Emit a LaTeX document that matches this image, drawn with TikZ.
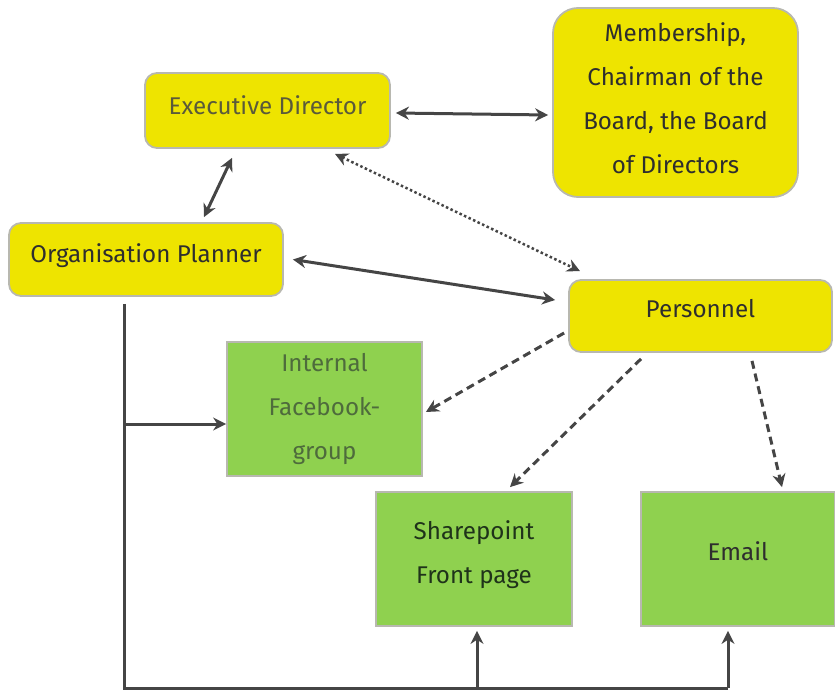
\documentclass[tikz,border=0pt]{standalone}
\usepackage{fontspec}
\setmainfont{Fira Sans}
\usetikzlibrary{arrows.meta,calc}
\definecolor{yel}{HTML}{EEE400}
\definecolor{grn}{HTML}{8FD14F}
\definecolor{bord}{HTML}{B8B8B0}
\definecolor{arrc}{HTML}{454545}
\definecolor{edtext}{HTML}{5A5A3A}
\definecolor{fbtext}{HTML}{4E6B3C}
\definecolor{sptext}{HTML}{1F331A}
\newcommand\lift[2][5pt]{\raisebox{#1}[\height][\depth]{\begin{tabular}{@{}c@{}}#2\end{tabular}}}
\begin{document}
\begin{tikzpicture}[x=1pt,y=-1pt,
  ybox/.style={draw=bord,line width=1.8pt,fill=yel,rounded corners=12pt,inner sep=0pt,
     font=\fontsize{24.2}{44}\selectfont,text=black!82},
  gbox/.style={draw=bord,line width=1.8pt,fill=grn,inner sep=0pt,
     font=\fontsize{24.2}{44}\selectfont,text=black!82},
  arr/.style={draw=arrc,line width=3pt,-{Stealth[length=13pt,width=13pt]}},
  darr/.style={arr,{Stealth[length=13pt,width=13pt]}-{Stealth[length=13pt,width=13pt]}},
  dash2/.style={dash pattern=on 8pt off 5pt},
  dot2/.style={dash pattern=on 2.5pt off 2.5pt}]
\useasboundingbox (0,0) rectangle (835,693);
\node[ybox,minimum width=245pt,minimum height=75pt,text=edtext] (ed) at (267.5,110.5) {\lift{Executive Director}};
\node[ybox,rounded corners=25pt,minimum width=245pt,minimum height=189pt] (mem) at (675.5,102.5) {\lift[4pt]{Membership,\\Chairman of the\\Board, the Board\\of Directors}};
\node[ybox,minimum width=274pt,minimum height=73pt] (op) at (146,259.5) {\lift[6pt]{Organisation Planner}};
\node[ybox,minimum width=263pt,minimum height=72pt] (pers) at (700.5,316) {\lift[7pt]{Personnel}};
\node[gbox,minimum width=195pt,minimum height=134pt,text=fbtext] (fb) at (324.5,409) {\lift[2pt]{Internal\\Facebook-\\group}};
\node[gbox,minimum width=196pt,minimum height=134pt,text=sptext] (sp) at (474,559) {\lift[6pt]{Sharepoint\\Front page}};
\node[gbox,minimum width=194pt,minimum height=134pt] (em) at (738,559) {\lift[7pt]{Email}};
% connectors
\draw[darr] ($(ed.east)+(5,2.5)$) -- ($(mem.west)+(-4,12.5)$);
\draw[darr] ($(ed.south)+(-35.5,9)$) -- ($(op.north)+(58,-5)$);
\draw[darr,dot2,line width=2.5pt] ($(ed.south)+(67.5,5)$) -- ($(pers.north)+(-120.5,-8)$);
\draw[darr] ($(op.east)+(9,0)$) -- ($(pers.west)+(-13,-16)$);
\draw[arr,dash2] ($(pers.west)+(-4,17)$) -- ($(fb.east)+(3,3)$);
\draw[arr,dash2] ($(pers.south)+(-59.5,6)$) -- ($(sp.north)+(36,-4)$);
\draw[arr,dash2] ($(pers.south)+(51.5,8)$) -- ($(em.north)+(44,-4)$);
% tree
\coordinate (t0) at ($(op.south)+(-22,7)$);
\coordinate (tj) at (124,424);
\coordinate (tb) at (124,688);
\coordinate (ts) at (477,688);
\coordinate (te) at (728,688);
\draw[draw=arrc,line width=3pt] (t0) -- (tb) -- (te);
\draw[arr] (tj) -- (tj -| fb.west);
\draw[arr] (ts) -- ($(ts |- sp.south)+(0,4)$);
\draw[arr] (te) -- ($(te |- em.south)+(0,4)$);
\end{tikzpicture}
\end{document}
